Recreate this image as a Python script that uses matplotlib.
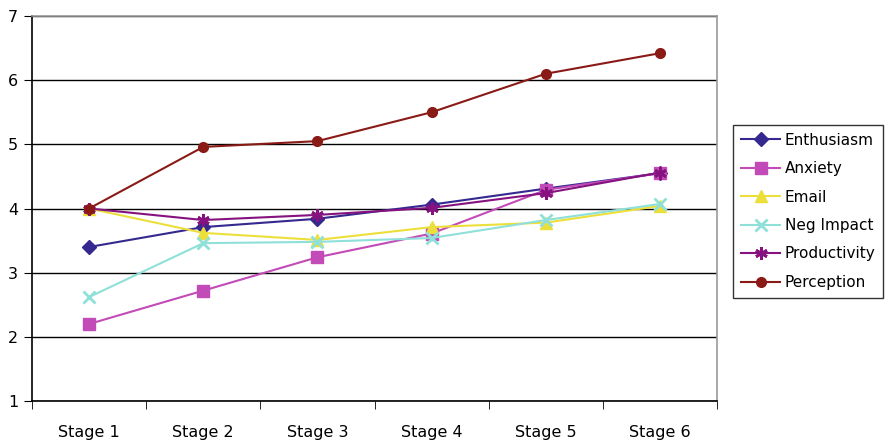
import matplotlib.pyplot as plt
import numpy as np
from matplotlib.ticker import FixedLocator

stages = ["Stage 1", "Stage 2", "Stage 3", "Stage 4", "Stage 5", "Stage 6"]

enthusiasm = [3.40, 3.71, 3.84, 4.06, 4.31, 4.55]
anxiety = [2.20, 2.72, 3.24, 3.61, 4.29, 4.55]
email = [4.00, 3.62, 3.51, 3.71, 3.78, 4.04]
neg_impact = [2.62, 3.46, 3.48, 3.54, 3.82, 4.07]
productivity = [4.00, 3.82, 3.90, 4.01, 4.24, 4.56]
perception = [4.00, 4.96, 5.05, 5.50, 6.10, 6.42]

SERIES = [
    ("Enthusiasm", enthusiasm, "#35288F", "D", 7),
    ("Anxiety", anxiety, "#C24BB8", "s", 8),
    ("Email", email, "#ECDF3A", "^", 8),
    ("Neg Impact", neg_impact, "#8EE0D8", "x", 8),
    ("Productivity", productivity, "#85127F", (6, 2, 0), 9),
    ("Perception", perception, "#8A1A16", "o", 7),
]

fig = plt.figure(figsize=(8.88, 4.4), dpi=100, facecolor="white")
ax = fig.add_axes([32 / 888, 1 - 401 / 440, (717 - 32) / 888, (401 - 16) / 440])

x = np.arange(1, len(stages) + 1)
for name, values, color, marker, size in SERIES:
    mew = 2 if marker in ("x", (6, 2, 0)) else 1
    ax.plot(x, values, color=color, linewidth=1.5, marker=marker,
            markersize=size, markeredgewidth=mew, markeredgecolor=color,
            label=name, zorder=3)

ax.set_xlim(0.5, len(stages) + 0.5)
ax.set_ylim(1, 7)
ax.set_yticks(range(1, 8))
ax.yaxis.grid(True, color="black", linewidth=1)
ax.set_axisbelow(True)

ax.set_xticks(x)
ax.set_xticklabels(stages)
ax.xaxis.set_minor_locator(FixedLocator(np.arange(0.5, len(stages) + 1, 1)))
ax.tick_params(axis="x", which="major", length=0, pad=17, labelsize=11.5)
ax.tick_params(axis="x", which="minor", length=6, direction="out", color="black")
ax.tick_params(axis="y", length=6, direction="out", labelsize=11.5, pad=4)

ax.spines["top"].set_color("#999999")
ax.spines["right"].set_color("#999999")
ax.spines["left"].set_color("black")
ax.spines["bottom"].set_color("black")
for s in ax.spines.values():
    s.set_linewidth(1.2)

leg = ax.legend(loc="upper left", bbox_to_anchor=(733 / 888, 1 - 125 / 440),
                bbox_transform=fig.transFigure, fontsize=11, frameon=True,
                fancybox=False, edgecolor="black", borderpad=0.5,
                labelspacing=0.88, handlelength=2.6, handletextpad=0.3,
                borderaxespad=0)
leg.get_frame().set_linewidth(1)

fig.savefig("out.png", dpi=100, facecolor="white")
